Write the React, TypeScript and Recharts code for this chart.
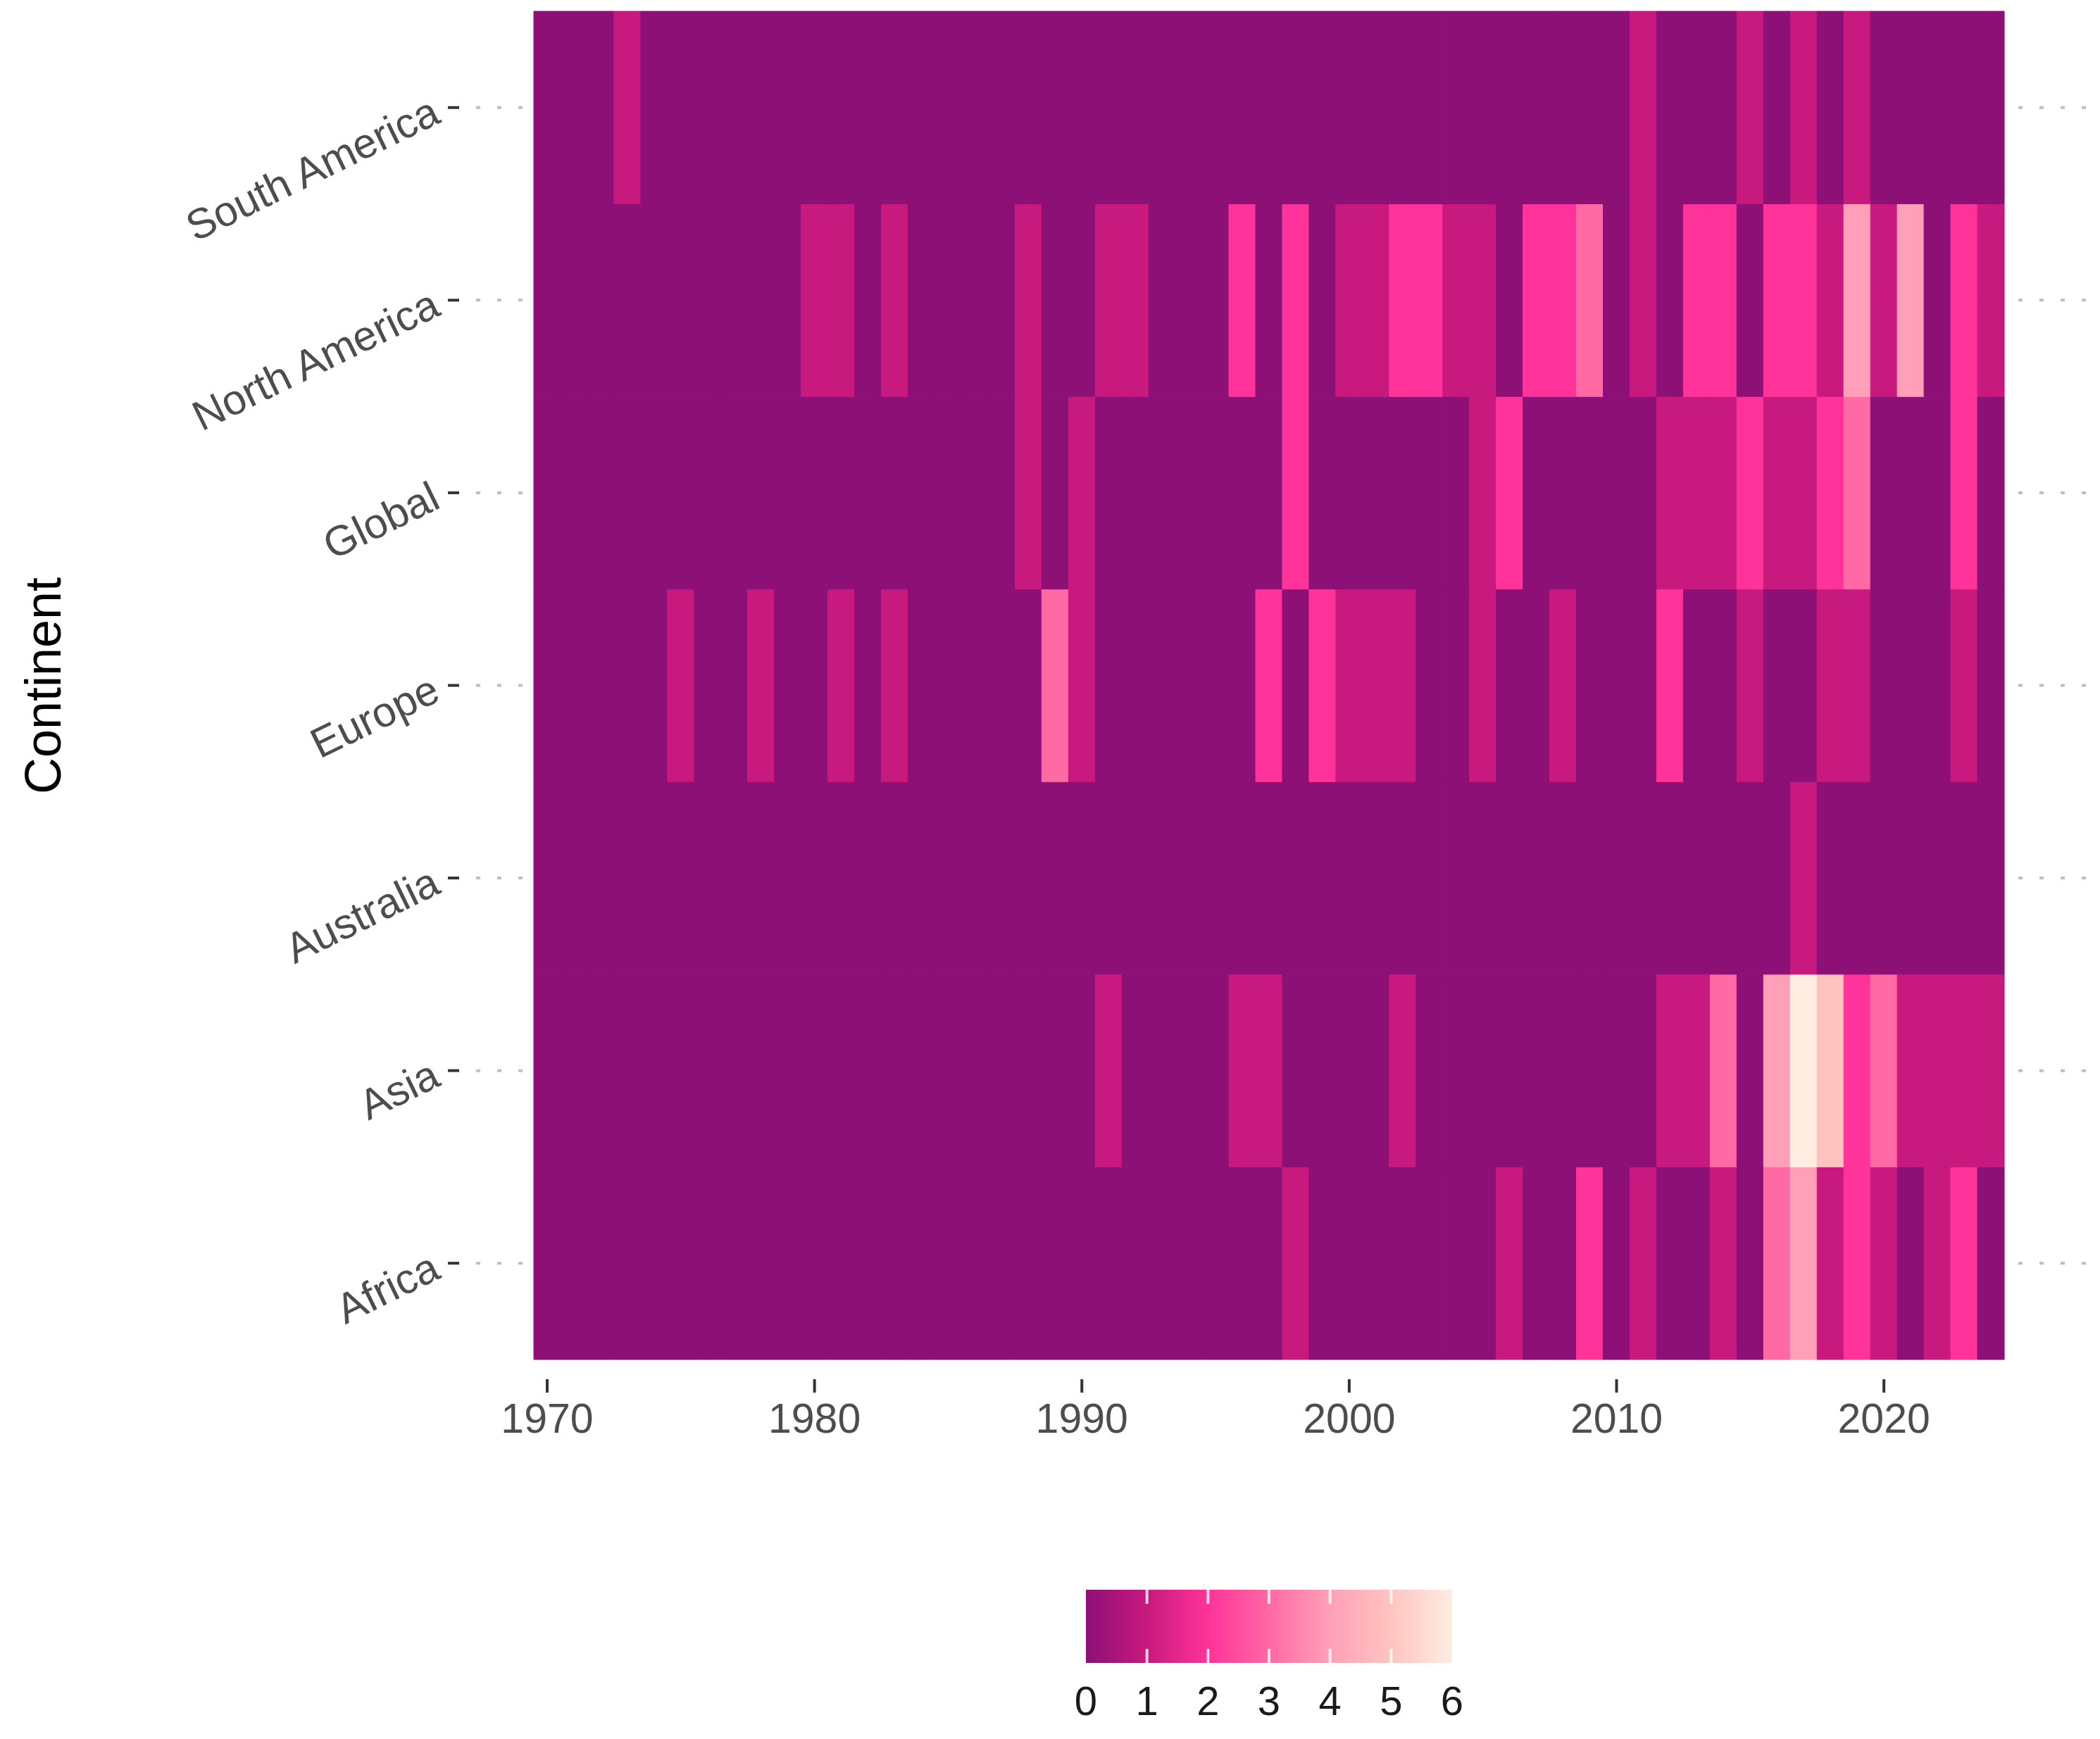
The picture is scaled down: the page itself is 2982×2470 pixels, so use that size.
import React from 'react';
import { BarChart, Bar, XAxis, YAxis, CartesianGrid, Cell } from 'recharts';

// one column per year
const YEARS = [
  1970, 1971, 1972, 1973, 1974, 1975, 1976, 1977, 1978, 1979,
  1980, 1981, 1982, 1983, 1984, 1985, 1986, 1987, 1988, 1989,
  1990, 1991, 1992, 1993, 1994, 1995, 1996, 1997, 1998, 1999,
  2000, 2001, 2002, 2003, 2004, 2005, 2006, 2007, 2008, 2009,
  2010, 2011, 2012, 2013, 2014, 2015, 2016, 2017, 2018, 2019,
  2020, 2021, 2022, 2023, 2024,
];

const YEAR_TICKS = [1970, 1980, 1990, 2000, 2010, 2020];

// bottom to top
const CONTINENTS = ['Africa', 'Asia', 'Australia', 'Europe', 'Global', 'North America', 'South America'];

const AFRICA = [
  0, 0, 0, 0, 0, 0, 0, 0, 0, 0,
  0, 0, 0, 0, 0, 0, 0, 0, 0, 0,
  0, 0, 0, 0, 0, 0, 0, 0, 1, 0,
  0, 0, 0, 0, 0, 0, 1, 0, 0, 2,
  0, 1, 0, 0, 1, 0, 3, 4, 1, 2,
  1, 0, 1, 2, 0,
];

const ASIA = [
  0, 0, 0, 0, 0, 0, 0, 0, 0, 0,
  0, 0, 0, 0, 0, 0, 0, 0, 0, 0,
  0, 1, 0, 0, 0, 0, 1, 1, 0, 0,
  0, 0, 1, 0, 0, 0, 0, 0, 0, 0,
  0, 0, 1, 1, 3, 0, 4, 6, 5, 2,
  3, 1, 1, 1, 1,
];

const AUSTRALIA = [
  0, 0, 0, 0, 0, 0, 0, 0, 0, 0,
  0, 0, 0, 0, 0, 0, 0, 0, 0, 0,
  0, 0, 0, 0, 0, 0, 0, 0, 0, 0,
  0, 0, 0, 0, 0, 0, 0, 0, 0, 0,
  0, 0, 0, 0, 0, 0, 0, 1, 0, 0,
  0, 0, 0, 0, 0,
];

const EUROPE = [
  0, 0, 0, 0, 0, 1, 0, 0, 1, 0,
  0, 1, 0, 1, 0, 0, 0, 0, 0, 3,
  1, 0, 0, 0, 0, 0, 0, 2, 0, 2,
  1, 1, 1, 0, 0, 1, 0, 0, 1, 0,
  0, 0, 2, 0, 0, 1, 0, 0, 1, 1,
  0, 0, 0, 1, 0,
];

const GLOBAL = [
  0, 0, 0, 0, 0, 0, 0, 0, 0, 0,
  0, 0, 0, 0, 0, 0, 0, 0, 1, 0,
  1, 0, 0, 0, 0, 0, 0, 0, 2, 0,
  0, 0, 0, 0, 0, 1, 2, 0, 0, 0,
  0, 0, 1, 1, 1, 2, 1, 1, 2, 3,
  0, 0, 0, 2, 0,
];

const NORTH_AMERICA = [
  0, 0, 0, 0, 0, 0, 0, 0, 0, 0,
  1, 1, 0, 1, 0, 0, 0, 0, 1, 0,
  0, 1, 1, 0, 0, 0, 2, 0, 2, 0,
  1, 1, 2, 2, 1, 1, 0, 2, 2, 3,
  0, 1, 0, 2, 2, 0, 2, 2, 1, 4,
  1, 4, 0, 2, 1,
];

const SOUTH_AMERICA = [
  0, 0, 0, 1, 0, 0, 0, 0, 0, 0,
  0, 0, 0, 0, 0, 0, 0, 0, 0, 0,
  0, 0, 0, 0, 0, 0, 0, 0, 0, 0,
  0, 0, 0, 0, 0, 0, 0, 0, 0, 0,
  0, 1, 0, 0, 0, 1, 0, 1, 0, 1,
  0, 0, 0, 0, 0,
];

const SERIES = [AFRICA, ASIA, AUSTRALIA, EUROPE, GLOBAL, NORTH_AMERICA, SOUTH_AMERICA];

const LEGEND_TICKS = [0, 1, 2, 3, 4, 5, 6];
// colour for counts 0..6
const PALETTE = ['#8d1077', '#c8197e', '#ff3399', '#ff69a4', '#ffa0b8', '#ffc4c0', '#ffede2'];

const FONT = '"Liberation Sans", Arial, Helvetica, sans-serif';

const rows = YEARS.map((year, i) => {
  const row: Record<string, number> = { year };
  CONTINENTS.forEach((c, k) => {
    row[c] = SERIES[k][i];
  });
  return row;
});

const tileHeight = () => 1;

function YearTick({ x, y, payload }: any) {
  if (!YEAR_TICKS.includes(payload.value)) return <g />;
  return (
    <g>
      <line x1={x} x2={x} y1={y + 28} y2={y + 47} stroke="#333" strokeWidth={4} />
      <text x={x} y={y + 104} textAnchor="middle" fontSize={59} fill="#4d4d4d" fontFamily={FONT}>
        {payload.value}
      </text>
    </g>
  );
}

function ContinentTick({ x, y, payload }: any) {
  const label = CONTINENTS[Math.floor(payload.value)];
  const ax = x - 24;
  const ay = y + 20;
  return (
    <g>
      <line x1={x - 16} x2={x} y1={y} y2={y} stroke="#333" strokeWidth={4} />
      <text
        x={ax}
        y={ay}
        textAnchor="end"
        fontSize={60}
        fill="#4d4d4d"
        fontFamily={FONT}
        transform={`rotate(-26 ${ax} ${ay})`}
      >
        {label}
      </text>
    </g>
  );
}

function ColorBar() {
  const left = 1542;
  const top = 2258;
  const w = 520;
  const h = 104;
  const step = w / (LEGEND_TICKS.length - 1);
  return (
    <svg
      width={2982}
      height={2470}
      style={{ position: 'absolute', left: 0, top: 0, pointerEvents: 'none' }}
    >
      <defs>
        <linearGradient id="countGrad" x1="0" x2="1" y1="0" y2="0">
          {PALETTE.map((c, i) => (
            <stop key={i} offset={i / (PALETTE.length - 1)} stopColor={c} />
          ))}
        </linearGradient>
      </defs>
      <rect x={left} y={top} width={w} height={h} fill="url(#countGrad)" />
      {LEGEND_TICKS.slice(1, -1).map((t) => (
        <g key={t} stroke="#ffffff" strokeOpacity={0.8} strokeWidth={4}>
          <line x1={left + t * step} x2={left + t * step} y1={top} y2={top + 20} />
          <line x1={left + t * step} x2={left + t * step} y1={top + h - 20} y2={top + h} />
        </g>
      ))}
      {LEGEND_TICKS.map((t) => (
        <text
          key={t}
          x={left + t * step}
          y={2436}
          textAnchor="middle"
          fontSize={58}
          fill="#1a1a1a"
          fontFamily={FONT}
        >
          {t}
        </text>
      ))}
      <text
        x={86}
        y={974}
        textAnchor="middle"
        fontSize={72}
        fill="#000"
        fontFamily={FONT}
        transform="rotate(-90 86 974)"
      >
        Continent
      </text>
    </svg>
  );
}

export default function App() {
  return (
    <div
      style={{
        position: 'absolute',
        left: 0,
        top: 0,
        width: 2982,
        height: 2470,
        background: '#fff',
        fontFamily: FONT,
      }}
    >
      <BarChart
        width={2982}
        height={2100}
        data={rows}
        margin={{ top: 16, right: 20, bottom: 0, left: 0 }}
        barCategoryGap={0}
        barGap={0}
      >
        <CartesianGrid
          vertical={false}
          syncWithTicks
          stroke="#bfbfbf"
          strokeWidth={4}
          strokeDasharray="0 24 6 0"
        />
        <XAxis
          dataKey="year"
          type="category"
          interval={0}
          padding={{ left: 106, right: 116 }}
          axisLine={false}
          tickLine={false}
          tickSize={0}
          tickMargin={0}
          height={169}
          tick={<YearTick />}
        />
        <YAxis
          type="number"
          domain={[0, CONTINENTS.length]}
          ticks={CONTINENTS.map((_, k) => k + 0.5)}
          interval={0}
          width={652}
          axisLine={false}
          tickLine={false}
          tickSize={0}
          tickMargin={0}
          tick={<ContinentTick />}
        />
        {CONTINENTS.map((c, k) => (
          <Bar key={c} name={c} dataKey={tileHeight} stackId="tiles" isAnimationActive={false}>
            {rows.map((r, i) => (
              <Cell
                key={i}
                fill={PALETTE[SERIES[k][i]]}
                stroke={PALETTE[SERIES[k][i]]}
                strokeWidth={1}
              />
            ))}
          </Bar>
        ))}
      </BarChart>
      <ColorBar />
    </div>
  );
}
